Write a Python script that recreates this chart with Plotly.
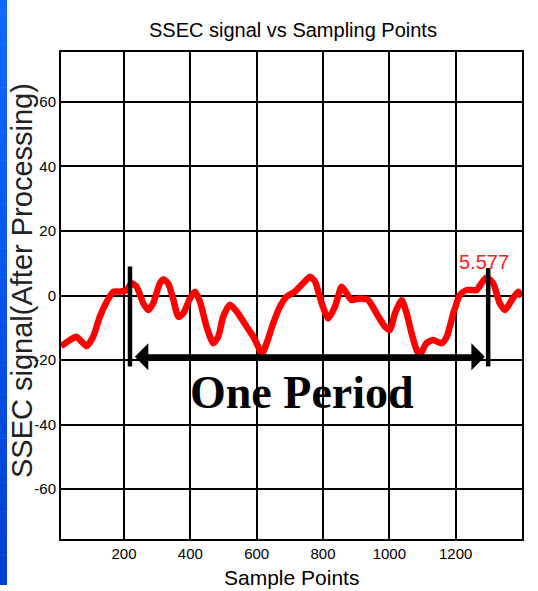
import plotly.graph_objects as go

# Processed SSEC signal traced along the sample index
sample_idx = [10, 37, 56, 72, 87, 107, 127, 148, 168, 188, 208, 223, 238, 258, 273, 288,
              308, 318, 333, 349, 364, 379, 399, 414, 429, 449, 469, 484, 499, 519, 540,
              570, 590, 605, 615, 630, 650, 670, 690, 715, 740, 761, 776, 796, 816, 836,
              856, 871, 886, 911, 936, 961, 987, 1002, 1017, 1037, 1052, 1067, 1082, 1092,
              1112, 1132, 1158, 1173, 1193, 1213, 1233, 1263, 1278, 1293, 1313, 1333, 1349,
              1369, 1389, 1400]
ssec_signal = [-15.7, -13.8, -12.8, -14.3, -15.7, -12.8, -6.6, -1.9, 1.2, 1.2, 1.7, 3.8, 2.7,
               -2.4, -4.5, -2.4, 3.8, 5.0, 3.8, -1.4, -6.6, -5.5, -0.9, 1.2, -1.9, -9.7, -14.8,
               -12.8, -6.6, -2.9, -5.0, -9.7, -12.8, -15.9, -18.4, -14.8, -8.6, -3.5, -0.4, 1.2,
               3.8, 5.8, 4.3, -2.4, -7.1, -3.5, 2.7, 0.7, -1.4, -0.9, -1.4, -5.5, -9.7, -10.7,
               -5.5, -1.4, -5.5, -11.7, -16.9, -18.4, -14.8, -13.8, -14.8, -12.8, -5.5, 0.2,
               1.7, 1.7, 3.8, 5.577, 3.8, -2.4, -4.5, -1.4, 1.2, -0.4]

x_ticks = [200, 400, 600, 800, 1000, 1200, 1400]
y_ticks = [-60, -40, -20, 0, 20, 40, 60]
y_tick_labels = ["-60", "-40", "-20", "0", "20", "40", "60"]

# Marked peak and the span of one period
peak_x, peak_y = 1293, 5.577
period_start, period_end = 218, 1298
period_arrow_y = -19

W, H = 538, 591
ML, MR, MT, MB = 61, 16, 52, 52
PW, PH = W - ML - MR, H - MT - MB

sans = "Liberation Sans, Arial, sans-serif"


def px_x(px):
    return (px - ML) / PW


def px_y(py):
    return (H - MB - py) / PH


fig = go.Figure()
fig.add_trace(go.Scatter(
    x=sample_idx, y=ssec_signal, mode="lines",
    line=dict(color="#ff0000", width=6.5, shape="spline", smoothing=0.6),
    hoverinfo="skip", showlegend=False,
))

shapes = []
# blue slide strip down the left edge, drawn as stacked bands
n_bands = 40
top_rgb, bot_rgb = (16, 104, 255), (0, 64, 208)
strip_bottom = 585
for i in range(n_bands):
    t = i / (n_bands - 1)
    c = tuple(round(a + (b - a) * t) for a, b in zip(top_rgb, bot_rgb))
    y_top = strip_bottom * i / n_bands
    y_bot = strip_bottom * (i + 1) / n_bands
    shapes.append(dict(
        type="rect", xref="paper", yref="paper", layer="below",
        x0=px_x(0), x1=px_x(7),
        y0=px_y(y_bot), y1=px_y(y_top) + 0.001,
        fillcolor="rgb(%d,%d,%d)" % c, line=dict(width=0),
    ))

# vertical markers bounding the period
for xv, top in ((period_start, 9), (period_end, 8.5)):
    shapes.append(dict(type="line", xref="x", yref="y", x0=xv, x1=xv, y0=-22, y1=top,
                       line=dict(color="black", width=4.5)))

annotations = [
    dict(x=peak_x - 8, y=peak_y + 4.8, xref="x", yref="y", text=f"{peak_y}", showarrow=False,
         font=dict(family=sans, size=20, color="#ff2020")),
    # double-headed arrow spanning one period
    dict(x=period_end - 10, y=period_arrow_y, ax=period_start + 10, ay=period_arrow_y,
         xref="x", yref="y", axref="x", ayref="y", text="", showarrow=True,
         arrowhead=1, startarrowhead=1, arrowside="end+start", arrowsize=0.9, startarrowsize=0.9,
         arrowwidth=5, arrowcolor="black", standoff=0, startstandoff=0),
    dict(x=737, y=-30, xref="x", yref="y", text="<b>One Period</b>", showarrow=False,
         font=dict(family="Liberation Serif, Times New Roman, serif", size=46, color="black")),
    dict(x=px_x(293), y=px_y(30), xref="paper", yref="paper",
         text="SSEC signal vs Sampling Points", showarrow=False,
         xanchor="center", yanchor="middle",
         font=dict(family=sans, size=20, color="black")),
    dict(x=px_x(291), y=px_y(591), xref="paper", yref="paper",
         text="Sample Points", showarrow=False, xanchor="center", yanchor="bottom",
         font=dict(family=sans, size=21, color="black")),
    dict(x=px_x(22), y=px_y(281), xref="paper", yref="paper",
         text="SSEC signal(After Processing)", showarrow=False, textangle=-90,
         xanchor="center", yanchor="middle",
         font=dict(family=sans, size=29, color="#222222")),
]

axis_common = dict(
    showgrid=True, gridcolor="black", gridwidth=1.5,
    showline=True, linecolor="black", linewidth=2, mirror=True,
    ticks="inside", ticklen=4, tickcolor="black", zeroline=False,
    tickfont=dict(family=sans, size=15, color="black"),
)

fig.update_layout(
    width=W, height=H,
    margin=dict(l=ML, r=MR, t=MT, b=MB),
    paper_bgcolor="white", plot_bgcolor="white",
    xaxis=dict(range=[10, 1400], tickvals=x_ticks, **axis_common),
    yaxis=dict(range=[-75.5, 75.5], tickvals=y_ticks, ticktext=y_tick_labels, **axis_common),
    shapes=shapes, annotations=annotations,
)

fig.write_html("out.html")
